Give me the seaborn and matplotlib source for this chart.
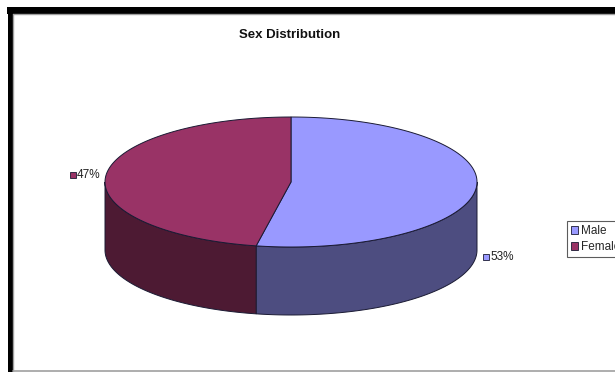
import numpy as np
import matplotlib
matplotlib.use("Agg")
import matplotlib.pyplot as plt
from matplotlib import font_manager
from matplotlib.patches import Polygon, Rectangle, Patch
import seaborn as sns

# ---- data -------------------------------------------------------------
categories = ["Male", "Female"]
shares = [53, 47]                      # percent
top_colors = ["#9999FF", "#993366"]
side_colors = ["#4D4D80", "#4D1A33"]
chart_title = "Sex Distribution"

sns.set_theme(style="white")


def pick_font(names):
    for n in names:
        try:
            font_manager.findfont(font_manager.FontProperties(family=n),
                                  fallback_to_default=False)
            return n
        except Exception:
            pass
    return "DejaVu Sans"


regular = pick_font(["Liberation Sans", "Arial"])
narrow = pick_font(["Liberation Sans Narrow", regular])
plt.rcParams["font.family"] = [regular, "DejaVu Sans"]
label_size = 9.5 if narrow != regular else 8.5

W, H = 615, 372
fig = plt.figure(figsize=(W / 100, H / 100), dpi=100)
ax = fig.add_axes([0, 0, 1, 1])
ax.set_xlim(0, W)
ax.set_ylim(H, 0)
ax.axis("off")

# ---- chart frame -------------------------------------------------------
ax.add_patch(Rectangle((7, 7), W - 7, 6.5, color="black", lw=0))
ax.add_patch(Rectangle((7.5, 7), 5, H - 7, color="black", lw=0))
ax.plot([12.5, W], [14, 14], color="#A0A0A0", lw=1)
ax.plot([13, 13], [14, H], color="#A0A0A0", lw=1)
ax.plot([12.5, W], [371, 371], color="#A0A0A0", lw=1.2)

# ---- 3-D pie -------------------------------------------------------------
cx, cy, rx, ry, depth = 291, 182, 186, 65, 68
edge = "#1A1A33"
fracs = np.asarray(shares, dtype=float) / np.sum(shares)
bounds = np.concatenate([[0.0], np.cumsum(fracs)]) * 360.0  # clockwise from 12 o'clock


def rim(theta, dy=0.0):
    t = np.radians(90.0 - np.asarray(theta))
    return np.column_stack([cx + rx * np.cos(t), cy - ry * np.sin(t) + dy])


# side walls (only the front half, 3 o'clock -> 9 o'clock, is visible)
for i in range(len(shares)):
    s, e = max(bounds[i], 90.0), min(bounds[i + 1], 270.0)
    if e <= s:
        continue
    th = np.linspace(s, e, 120)
    pts = np.vstack([rim(th), rim(th[::-1], depth)])
    ax.add_patch(Polygon(pts, closed=True, facecolor=side_colors[i],
                         edgecolor=edge, lw=0.7, zorder=1))

# top faces
for i in range(len(shares)):
    th = np.linspace(bounds[i], bounds[i + 1], 200)
    pts = np.vstack([[cx, cy], rim(th)])
    ax.add_patch(Polygon(pts, closed=True, facecolor=top_colors[i],
                         edgecolor=edge, lw=0.7, zorder=2))

# ---- data labels -----------------------------------------------------------
label_pos = {"Male": (486, 257), "Female": (73, 175)}
for name, val, col in zip(categories, shares, top_colors):
    x, y = label_pos[name]
    ax.plot([x], [y], marker="s", ms=4.2, mfc=col, mec=edge, mew=0.6, zorder=3)
    ax.text(x + 4, y, f"{val}%", ha="left", va="center",
            fontsize=label_size, family=[narrow, "DejaVu Sans"], color="#222222")

# ---- title -------------------------------------------------------------
ax.text(290, 35, chart_title, ha="center", va="center",
        fontsize=9.5, fontweight="bold", color="#111111")

# ---- legend --------------------------------------------------------------
handles = [Patch(facecolor=c, edgecolor=edge, linewidth=0.6) for c in top_colors]
leg = ax.legend(handles, categories, loc="upper left",
                bbox_to_anchor=(567 / W, 1 - 221 / H), bbox_transform=ax.transAxes,
                frameon=True, fancybox=False, shadow=False,
                prop={"family": [narrow, "DejaVu Sans"], "size": label_size},
                handlelength=0.6, handleheight=0.6, handletextpad=0.25,
                labelspacing=0.35, borderpad=0.35, borderaxespad=0)
leg.get_frame().set_edgecolor("#333333")
leg.get_frame().set_linewidth(0.8)

fig.savefig("out.png", dpi=100, facecolor="white")
